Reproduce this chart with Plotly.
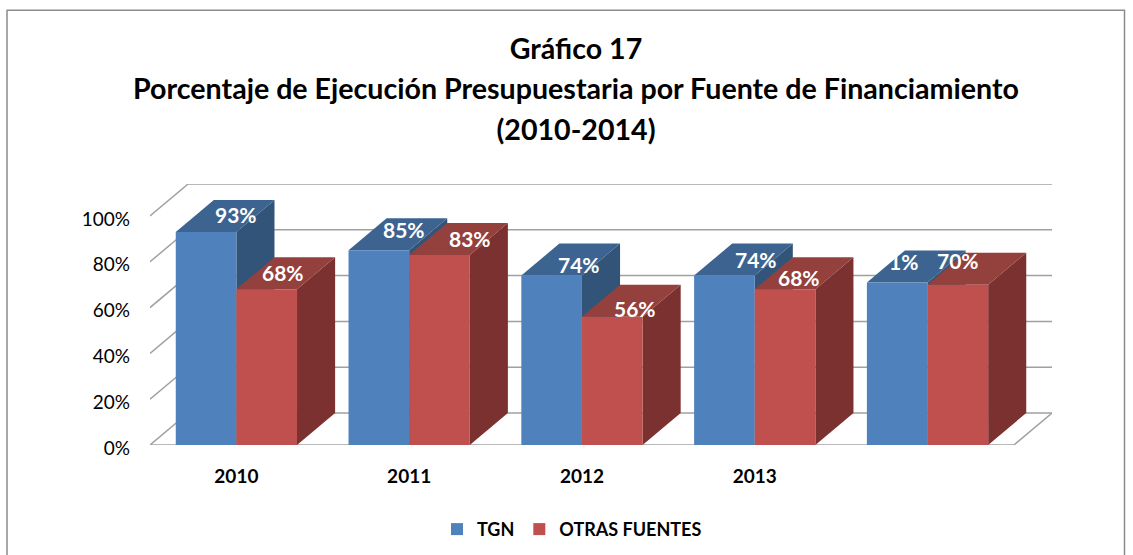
import plotly.graph_objects as go

# ---- data ----
categories = ["2010", "2011", "2012", "2013", ""]
tgn = [93, 85, 74, 74, 71]
otras = [68, 83, 56, 68, 70]
tgn_labels = ["93%", "85%", "74%", "74%", "1%"]
otras_labels = ["68%", "83%", "56%", "68%", "70%"]
y_ticks = [0, 20, 40, 60, 80, 100]

# ---- layout constants (pixels of the 1133x555 page) ----
W, H = 1133, 555
L, R, T, B = 150, 1052, 184, 444.7
PERIOD = 172.4
DEPTH_X, DEPTH_Y = 38, 32
PX_PER_PCT = 2.29
BAR_W = 60.5 / PERIOD
dx = DEPTH_X / PERIOD
dy = DEPTH_Y / PX_PER_PCT
n = len(categories)
xpos = [i + 0.5 for i in range(n)]
FONT = "Lato"

BLUE, BLUE_SIDE, BLUE_TOP = "#4f81bd", "#335479", "#3d6390"
RED, RED_SIDE, RED_TOP = "#c0504d", "#7b312f", "#94403c"
GRID = "#a0a0a0"

shapes = []


def poly(pts, fill, layer="below"):
    path = "M" + " L".join(f"{x},{y}" for x, y in pts) + " Z"
    shapes.append(dict(type="path", path=path, xref="x", yref="y", fillcolor=fill,
                       line=dict(width=0), layer=layer))


def line(x0, y0, x1, y1, width=1.5, color=GRID):
    shapes.append(dict(type="line", xref="x", yref="y", x0=x0, y0=y0, x1=x1, y1=y1,
                       line=dict(color=color, width=width), layer="below"))


# chart walls
for v in y_ticks:
    line(0, v, dx, v + dy)
    line(dx, v + dy, n + dx, v + dy)
line(0, 0, n, 0)
line(n, 0, n + dx, dy)

# bar depth faces, back to front
for xc, a, b in zip(xpos, tgn, otras):
    x0, x1, x2 = xc - BAR_W, xc, xc + BAR_W
    poly([(x1, 0), (x1 + dx, dy), (x1 + dx, a + dy), (x1, a)], BLUE_SIDE)
    poly([(x0, a), (x0 + dx, a + dy), (x1 + dx, a + dy), (x1, a)], BLUE_TOP)
    poly([(x2, 0), (x2 + dx, dy), (x2 + dx, b + dy), (x2, b)], RED_SIDE)
    poly([(x1, b), (x1 + dx, b + dy), (x2 + dx, b + dy), (x2, b)], RED_TOP)

fig = go.Figure()
fig.add_bar(x=xpos, y=tgn, name="<b>TGN</b>", width=BAR_W, offset=-BAR_W,
            marker=dict(color=BLUE, line=dict(width=0)))
fig.add_bar(x=xpos, y=otras, name="<b>OTRAS FUENTES</b>", width=BAR_W, offset=0,
            marker=dict(color=RED, line=dict(width=0)))

# data labels: (x shift, y shift) in pixels from the front top corner shared by the bars
tgn_shift = [(0, 18), (-5, 21), (-3, 11), (1, 16), (-24, 21)]
otras_shift = [(47, 17), (61, 16), (53, 8), (44, 12), (30, 24)]
annotations = []
for xc, vals, labs, shifts in ((xpos, tgn, tgn_labels, tgn_shift), (xpos, otras, otras_labels, otras_shift)):
    for x, v, t, (sx, sy) in zip(xc, vals, labs, shifts):
        annotations.append(dict(x=x, y=v, text=f"<b>{t}</b>", showarrow=False, xref="x", yref="y",
                                xshift=sx, yshift=sy, xanchor="center", yanchor="middle",
                                font=dict(family=FONT, size=21, color="white")))

# outer frame
pw, ph = R - L, B - T
def px(v): return (v - L) / pw
def py(v): return (B - v) / ph
shapes.append(dict(type="rect", xref="paper", yref="paper", x0=px(7), x1=px(1124.5), y0=py(600), y1=py(10.5),
                   line=dict(color="#8c8c8c", width=1.5), fillcolor="rgba(0,0,0,0)", layer="below"))

title_style = '<span style="font-size:28.6px">'
fig.update_layout(
    width=W, height=H,
    margin=dict(l=L, r=W - R, t=T, b=H - B, pad=0, autoexpand=False),
    paper_bgcolor="white", plot_bgcolor="rgba(0,0,0,0)",
    barmode="overlay",
    shapes=shapes,
    annotations=annotations,
    title=dict(text=f"<b>{title_style}Gráfico 17</span><br>{title_style}Porcentaje de Ejecución Presupuestaria por Fuente de Financiamiento</span>"
                    f"<br>{title_style}(2010-2014)</span></b>",
               x=576 / W, xanchor="center", y=1 - 59 / H, yanchor="middle",
               font=dict(family=FONT, size=31, color="black")),
    xaxis=dict(range=[0, n + dx], showgrid=False, zeroline=False, showline=False,
               tickmode="array", tickvals=xpos, ticktext=[f"<b>{c}</b>" for c in categories],
               ticks="", ticklabelstandoff=18, tickfont=dict(family=FONT, size=19, color="black")),
    yaxis=dict(range=[0, 100 + dy], showgrid=False, zeroline=False, showline=False,
               tickmode="array", tickvals=y_ticks, ticktext=[f"{v}%" for v in y_ticks],
               ticks="", ticklabelstandoff=19, ticklabelshift=3, tickfont=dict(family=FONT, size=19, color="black")),
    legend=dict(orientation="h", x=(437 - L) / pw, xanchor="left", y=py(529), yanchor="middle",
                font=dict(family=FONT, size=18, color="black"), bgcolor="rgba(0,0,0,0)",
                traceorder="normal"),
    showlegend=True,
)

fig.write_html("out.html", config=dict(displayModeBar=False),
               post_script="document.body.style.margin='0';document.body.style.overflow='hidden';")
